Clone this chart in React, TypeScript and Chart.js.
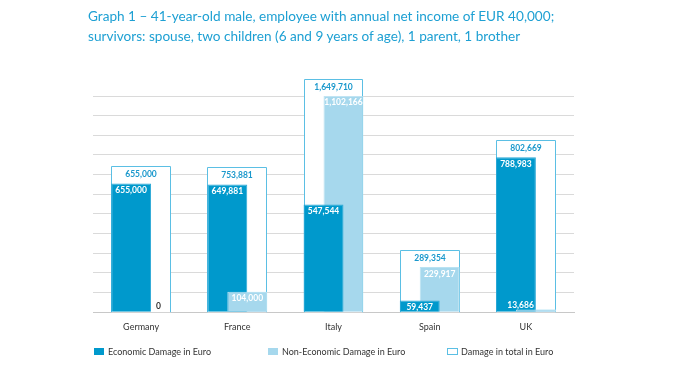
import React, { useEffect, useRef } from 'react';
import { Chart, registerables } from 'chart.js';

Chart.register(...registerables);

const categories = ['Germany', 'France', 'Italy', 'Spain', 'UK'];
const economic = [655000, 649881, 547544, 59437, 788983];
const nonEconomic = [0, 104000, 1102166, 229917, 13686];
const totals = [655000, 753881, 1649710, 289354, 802669];
const seriesNames = ['Economic Damage in Euro', 'Non-Economic Damage in Euro', 'Damage in total in Euro'];
const titleLines = [
  'Graph 1 – 41-year-old male, employee with annual net income of EUR 40,000;',
  'survivors: spouse, two children (6 and 9 years of age), 1 parent, 1 brother',
];
const yMax = 1100000;
const yStep = 100000;

const ECON = '#0099cc';
const NONECON = '#a6d8ed';
const TOTAL_STROKE = '#5bbfe4';
const TITLE_COLOR = '#1ea0d3';
const LABEL_BLUE = '#1a98cc';
const TEXT = '#333333';
const FONT = 'Lato, "Open Sans", sans-serif';

const fmt = (v: number) => v.toLocaleString('en-US');

const damagePlugin = {
  id: 'damagePlugin',
  beforeDatasetsDraw(chart: any) {
    const ctx = chart.ctx;
    const m0 = chart.getDatasetMeta(0);
    const m1 = chart.getDatasetMeta(1);
    const base = chart.scales.y.getPixelForValue(0);
    ctx.save();
    categories.forEach((_, i) => {
      const a = m0.data[i];
      const b = m1.data[i];
      const left = Math.round(a.x - a.width / 2);
      const right = Math.round(b.x + b.width / 2);
      const top = Math.round(Math.min(a.y, b.y) - 17);
      ctx.fillStyle = '#ffffff';
      ctx.fillRect(left, top, right - left, base - top);
      ctx.strokeStyle = TOTAL_STROKE;
      ctx.lineWidth = 1;
      ctx.beginPath();
      ctx.moveTo(left + 0.5, base);
      ctx.lineTo(left + 0.5, top + 0.5);
      ctx.lineTo(right - 0.5, top + 0.5);
      ctx.lineTo(right - 0.5, base);
      ctx.stroke();
      ctx.font = `bold 8.5px ${FONT}`;
      ctx.fillStyle = LABEL_BLUE;
      ctx.textAlign = 'center';
      ctx.textBaseline = 'middle';
      ctx.fillText(fmt(totals[i]), (left + right) / 2, top + 8);
    });
    ctx.restore();
  },
  afterDatasetsDraw(chart: any) {
    const ctx = chart.ctx;
    const m0 = chart.getDatasetMeta(0);
    const m1 = chart.getDatasetMeta(1);
    const base = chart.scales.y.getPixelForValue(0);
    ctx.save();
    // shorter bar in front
    categories.forEach((_, i) => {
      if (nonEconomic[i] < economic[i] && nonEconomic[i] > 0) m1.data[i].draw(ctx);
    });
    ctx.font = `bold 8.5px ${FONT}`;
    ctx.textBaseline = 'middle';
    categories.forEach((_, i) => {
      const a = m0.data[i];
      const b = m1.data[i];
      const pairs: [any, number][] = [[a, economic[i]], [b, nonEconomic[i]]];
      pairs.forEach(([el, v]) => {
        const h = base - el.y;
        if (h >= 9) {
          ctx.fillStyle = '#ffffff';
          ctx.textAlign = 'center';
          ctx.fillText(fmt(v), el.x, el.y + 7);
        } else if (v === 0) {
          ctx.fillStyle = TEXT;
          ctx.textAlign = 'left';
          ctx.fillText(fmt(v), a.x + a.width / 2 + 5, base - 6);
        } else {
          ctx.fillStyle = '#ffffff';
          ctx.textAlign = 'right';
          ctx.fillText(fmt(v), a.x + a.width / 2 - 2, base - 7);
        }
      });
    });
    ctx.restore();
  },
  afterDraw(chart: any) {
    const ctx = chart.ctx;
    const left = chart.chartArea.left;
    const offsets = [1, 175, 354];
    const y = 352;
    ctx.save();
    ctx.font = `9px ${FONT}`;
    ctx.textBaseline = 'middle';
    ctx.textAlign = 'left';
    seriesNames.forEach((name, k) => {
      const x = left + offsets[k];
      if (k === 0) {
        ctx.fillStyle = ECON;
        ctx.fillRect(x, y - 4, 10, 7);
      } else if (k === 1) {
        ctx.fillStyle = NONECON;
        ctx.fillRect(x, y - 4, 10, 7);
      } else {
        ctx.strokeStyle = TOTAL_STROKE;
        ctx.lineWidth = 1;
        ctx.strokeRect(x + 0.5, y - 3.5, 10, 6);
      }
      ctx.fillStyle = TEXT;
      ctx.fillText(name, x + 14, y);
    });
    ctx.restore();
  },
};

export default function App() {
  const ref = useRef<HTMLCanvasElement>(null);

  useEffect(() => {
    document.body.style.margin = '0';
    const chart = new Chart(ref.current as HTMLCanvasElement, {
      type: 'bar',
      data: {
        labels: categories,
        datasets: [
          {
            label: seriesNames[0],
            data: economic,
            backgroundColor: ECON,
            borderColor: '#2aa8d6',
            borderWidth: 1,
            categoryPercentage: 0.415,
            barPercentage: 2,
          },
          {
            label: seriesNames[1],
            data: nonEconomic,
            backgroundColor: NONECON,
            borderColor: '#b9e2f2',
            borderWidth: 1,
            categoryPercentage: 0.415,
            barPercentage: 2,
          },
        ],
      },
      options: {
        animation: false,
        responsive: false,
        maintainAspectRatio: false,
        layout: { padding: { left: 93, right: 100, top: 96, bottom: 30 } },
        plugins: {
          legend: { display: false },
          title: { display: false },
          tooltip: { enabled: false },
        },
        scales: {
          x: {
            grid: { display: false, drawTicks: false },
            border: { display: true, color: '#c8c8c8', width: 1 },
            ticks: { color: TEXT, font: { family: FONT, size: 9 }, padding: 9 },
          },
          y: {
            min: 0,
            max: yMax,
            grid: { color: '#dadada', lineWidth: 1, drawTicks: false },
            border: { display: false },
            ticks: { display: false, stepSize: yStep },
          },
        },
      },
      plugins: [damagePlugin],
    });
    return () => chart.destroy();
  }, []);

  return (
    <div style={{ position: 'relative', width: 674, height: 371, background: '#fff' }}>
      <div
        style={{
          position: 'absolute',
          left: 88,
          top: 6,
          color: TITLE_COLOR,
          fontFamily: FONT,
          fontSize: 13.6,
          lineHeight: '20px',
          whiteSpace: 'nowrap',
        }}
      >
        {titleLines.map((t) => (
          <div key={t}>{t}</div>
        ))}
      </div>
      <canvas ref={ref} width={674} height={371} style={{ display: 'block' }} />
    </div>
  );
}
